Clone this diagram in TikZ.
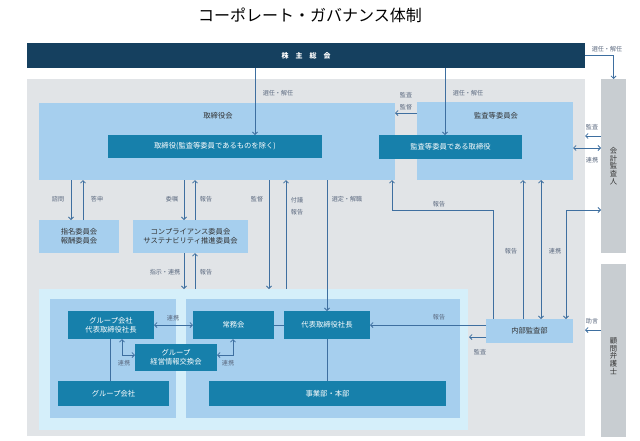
\documentclass[tikz,border=0pt]{standalone}
\usepackage{fontspec}
\setmainfont{Noto Sans CJK JP}
\usetikzlibrary{arrows.meta}
\definecolor{cNavy}{HTML}{15405F}
\definecolor{cDark}{HTML}{1780AB}
\definecolor{cLight}{HTML}{A6CFEE}
\definecolor{cCyan}{HTML}{D5EFFA}
\definecolor{cBg}{HTML}{E1E4E7}
\definecolor{cCol}{HTML}{C8CDD1}
\definecolor{cArrow}{HTML}{3E6FA0}
\definecolor{cLab}{HTML}{5C6A80}
\definecolor{cTxt}{HTML}{333333}
\newcommand{\mkbox}[7]{\node[#6, inner sep=0pt, outer sep=0pt, anchor=north west,
  minimum width={(#4-#2)*1pt}, minimum height={(#5-#3)*1pt}] (#1) at (#2,#3) {#7};}
\tikzset{
  dk/.style={fill=cDark, text=white, font=\fontsize{7.3}{9.3}\selectfont, align=center},
  lt/.style={fill=cLight, text=cTxt, font=\fontsize{7.3}{9.3}\selectfont, align=center},
  lab/.style={text=cLab, font=\fontsize{6.1}{7}\selectfont, inner sep=0pt},
  ln/.style={draw=cArrow, line width=0.75pt},
  arr/.style={ln, -{Straight Barb[length=2.5pt,width=5pt]}},
  darr/.style={ln, {Straight Barb[length=2.5pt,width=5pt]}-{Straight Barb[length=2.5pt,width=5pt]}},
  vtxt/.style={text=cTxt, font=\fontsize{7.3}{7.8}\selectfont, align=center, inner sep=0pt}
}
\begin{document}
\begin{tikzpicture}[x=1pt,y=-1pt]
\useasboundingbox (0,0) rectangle (640,440);
\fill[white] (0,0) rectangle (640,440);

\node[font=\fontsize{16}{18}\selectfont, text=black] (title) at (310,15) {コーポレート・ガバナンス体制};

% background areas
\mkbox{gbar}{27}{43}{585}{68}{fill=cNavy, text=white, font=\fontsize{7}{8}\selectfont\bfseries}{株\hspace{7pt}主\hspace{7pt}総\hspace{7pt}会}
\mkbox{bg}{27}{79}{585}{436}{fill=cBg}{}
\mkbox{kaikei}{601}{79}{626}{253}{fill=cCol}{}
\mkbox{komon}{601}{264}{626}{437}{fill=cCol}{}
\node[vtxt] (kaikeiT) at (613.5,166) {会\\計\\監\\査\\人};
\node[vtxt] (komonT) at (613.5,356) {顧\\問\\弁\\護\\士};

% upper boxes
\mkbox{board}{39}{103}{395}{180}{fill=cLight}{}
\node[text=cTxt, font=\fontsize{7.3}{8}\selectfont] (boardT) at (218,116) {取締役会};
\mkbox{dirs}{108}{135}{322}{158}{dk}{取締役(監査等委員であるものを除く)}
\mkbox{acomm}{417}{102}{573}{180}{fill=cLight}{}
\node[text=cTxt, font=\fontsize{7.3}{8}\selectfont] (acommT) at (496,116) {監査等委員会};
\mkbox{adirs}{379}{135}{522}{159}{dk}{監査等委員である取締役}
\mkbox{nomi}{39}{220}{119}{253}{lt}{指名委員会\\報酬委員会}
\mkbox{comp}{133}{220}{248}{253}{lt}{コンプライアンス委員会\\サステナビリティ推進委員会}

% lower area
\mkbox{cyan}{39}{289}{468}{430}{fill=cCyan}{}
\mkbox{leftin}{50}{299}{176}{418}{fill=cLight}{}
\mkbox{rightin}{186}{299}{460}{418}{fill=cLight}{}
\mkbox{audit}{486}{319}{573}{343}{lt}{内部監査部}
\mkbox{gpres}{68}{311}{154}{339}{dk}{グループ会社\\代表取締役社長}
\mkbox{jomu}{193}{311}{274}{339}{dk}{常務会}
\mkbox{pres}{284}{311}{370}{339}{dk}{代表取締役社長}
\mkbox{exch}{135}{344}{217}{371}{dk}{グループ\\経営情報交換会}
\mkbox{gcomp}{58}{381}{169}{406}{dk}{グループ会社}
\mkbox{jigyo}{209}{381}{446}{406}{dk}{事業部・本部}

% helper coordinates
\coordinate (X71) at (71,0);   \coordinate (X83) at (83,0);
\coordinate (X110) at (110,0); \coordinate (X122) at (122,0);
\coordinate (X184) at (184,0); \coordinate (X195) at (195,0);
\coordinate (X233) at (233,0); \coordinate (X255) at (255,0);
\coordinate (X269) at (269,0); \coordinate (X286) at (286,0);
\coordinate (X327) at (327,0); \coordinate (X392) at (392,0);
\coordinate (X445) at (445,0); \coordinate (X469) at (469,0);
\coordinate (X493) at (493,0); \coordinate (X523) at (523,0);
\coordinate (X541) at (541,0); \coordinate (X566) at (566,0);
\coordinate (X613) at (613.5,0);
\coordinate (Y55) at (0,55);   \coordinate (Y113) at (0,113);
\coordinate (Y136) at (0,136); \coordinate (Y148) at (0,148);
\coordinate (Y210) at (0,210); \coordinate (Y325) at (0,325);
\coordinate (Y330) at (0,330); \coordinate (Y337) at (0,337);
\coordinate (Y355) at (0,355);

% connectors
\draw[arr] (gbar.south -| X255) -- (dirs.north -| X255);
\node[lab] (l1) at (278,93) {選任・解任};
\draw[arr] (gbar.south -| X445) -- (adirs.north -| X445);
\node[lab] (l2) at (468,93) {選任・解任};
\draw[arr] (gbar.east |- Y55) -| (kaikei.north -| X613);
\node[lab] (l3) at (607,49) {選任・解任};

\draw[arr] (acomm.west |- Y113) -- (board.east |- Y113);
\node[lab] (l4) at (406,95) {監査};
\node[lab] (l5) at (406,107) {監督};
\draw[arr] (kaikei.west |- Y136) -- (bg.east |- Y136);
\node[lab] (l6) at (592,127) {監査};
\draw[darr] (acomm.east |- Y148) -- (kaikei.west |- Y148);
\node[lab] (l7) at (592,160) {連携};

\draw[arr] (board.south -| X71) -- (nomi.north -| X71);
\node[lab] (l8) at (58,199) {諮問};
\draw[arr] (nomi.north -| X83) -- (board.south -| X83);
\node[lab] (l9) at (97,199) {答申};
\draw[arr] (board.south -| X184) -- (comp.north -| X184);
\node[lab] (l10) at (172,199) {委嘱};
\draw[arr] (comp.north -| X195) -- (board.south -| X195);
\node[lab] (l11) at (206,199) {報告};
\draw[arr] (board.south -| X269) -- (cyan.north -| X269);
\node[lab] (l12) at (257,199) {監督};
\draw[arr] (cyan.north -| X286) -- (board.south -| X286);
\node[lab] (l13) at (297,200) {付議};
\node[lab] (l14) at (297,212) {報告};
\draw[arr] (board.south -| X327) -- (pres.north -| X327);
\node[lab] (l15) at (347,199) {選定・解職};

\draw[arr] (comp.south -| X184) -- (cyan.north -| X184);
\node[lab] (l16) at (165,272) {指示・連携};
\draw[arr] (cyan.north -| X195) -- (comp.south -| X195);
\node[lab] (l17) at (206,272) {報告};

\draw[darr] (gpres.east |- Y325) -- (jomu.west |- Y325);
\node[lab] (l18) at (173,318) {連携};
\draw[ln] (jomu.east |- Y325) -- (pres.west |- Y325);
\draw[ln] (gpres.south -| X110) -- (gcomp.north -| X110);
\draw[ln] (pres.south -| X327) -- (jigyo.north -| X327);
\draw[darr] (gpres.south -| X122) |- (exch.west |- Y355);
\node[lab] (l19) at (124,363) {連携};
\draw[darr] (jomu.south -| X233) |- (exch.east |- Y355);
\node[lab] (l20) at (228,363) {連携};

\draw[arr] (audit.west |- Y325) -- (pres.east |- Y325);
\node[lab] (l21) at (439,317) {報告};
\draw[arr] (audit.west |- Y337) -- (X469 |- Y337);
\node[lab] (l22) at (480,352) {監査};
\draw[arr] (audit.north -| X493) -- (X493 |- Y210) -- (X392 |- Y210) -- (board.south -| X392);
\node[lab] (l23) at (439,204) {報告};
\draw[arr] (audit.north -| X523) -- (acomm.south -| X523);
\node[lab] (l24) at (511,251) {報告};
\draw[darr] (audit.north -| X541) -- (acomm.south -| X541);
\node[lab] (l25) at (555,251) {連携};
\draw[darr] (audit.north -| X566) |- (kaikei.west |- Y210);
\draw[arr] (komon.west |- Y330) -- (bg.east |- Y330);
\node[lab] (l26) at (592,321) {助言};
\end{tikzpicture}
\end{document}
